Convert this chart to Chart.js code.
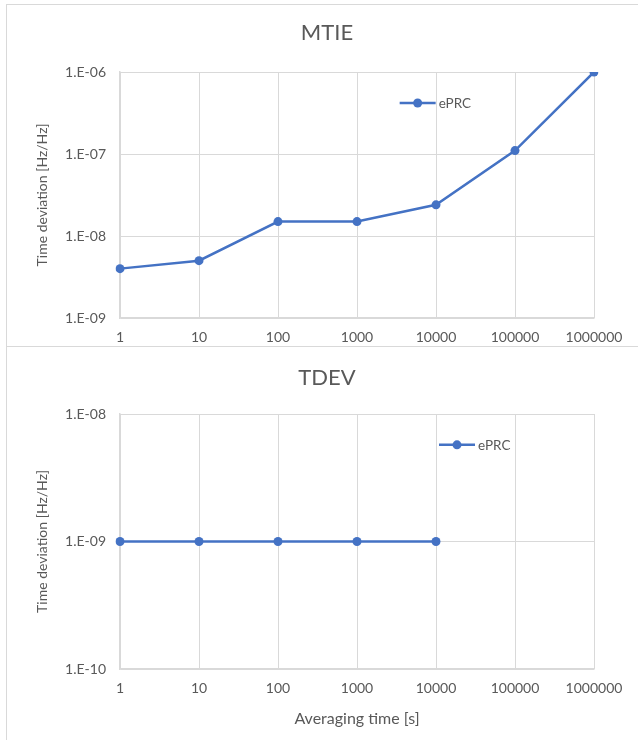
<!DOCTYPE html>
<html>
<head>
<meta charset="utf-8">
<script src="https://cdn.jsdelivr.net/npm/chart.js@4.4.1/dist/chart.umd.min.js"></script>
<style>
  html, body { margin: 0; padding: 0; background: #fff; overflow: hidden; width: 638px; height: 740px; }
  .box { position: absolute; left: 6px; width: 640px; border: 1px solid #d9d9d9; box-sizing: border-box; background: #fff; }
  #box-mtie { top: 4px; height: 343px; }
  #box-tdev { top: 346px; height: 400px; }
  .box canvas { position: absolute; left: 0; top: 0; }
</style>
</head>
<body>
<div class="box" id="box-mtie"><canvas id="chart-mtie"></canvas></div>
<div class="box" id="box-tdev"><canvas id="chart-tdev"></canvas></div>
<script>
const X_LABELS = ['1', '10', '100', '1000', '10000', '100000', '1000000'];
const MTIE_EPRC = [4e-9, 5e-9, 1.5e-8, 1.5e-8, 2.4e-8, 1.1e-7, 1e-6];
const TDEV_EPRC = [1e-9, 1e-9, 1e-9, 1e-9, 1e-9];
const MTIE_Y_TICKS = [1e-9, 1e-8, 1e-7, 1e-6];
const TDEV_Y_TICKS = [1e-10, 1e-9, 1e-8];
const SERIES_NAME = 'ePRC';

const BLUE = '#4472C4', GRID = '#d9d9d9', TEXT = '#595959';
const FONT = "Lato, 'Open Sans', sans-serif";
Chart.defaults.font.family = FONT;
Chart.defaults.color = TEXT;

const sciLabel = v => {
  const e = Math.round(Math.log10(v));
  return '1.E' + (e < 0 ? '-' : '+') + String(Math.abs(e)).padStart(2, '0');
};

// legend drawn inside the plot area, like the Excel original
const insideLegend = {
  id: 'insideLegend',
  afterDraw(chart, args, opts) {
    const { ctx, chartArea: a } = chart;
    const x = a.left + (a.right - a.left) * opts.fx;
    const y = a.top + (a.bottom - a.top) * opts.fy;
    ctx.save();
    ctx.strokeStyle = BLUE; ctx.lineWidth = 2.5;
    ctx.beginPath(); ctx.moveTo(x, y); ctx.lineTo(x + 36, y); ctx.stroke();
    ctx.fillStyle = BLUE;
    ctx.beginPath(); ctx.arc(x + 18, y, 4.5, 0, Math.PI * 2); ctx.fill();
    ctx.fillStyle = TEXT; ctx.font = '13.5px ' + FONT;
    ctx.textBaseline = 'middle'; ctx.textAlign = 'left';
    ctx.fillText(opts.text, x + 39, y + 1);
    ctx.restore();
  }
};

function makeChart(id, opts) {
  const canvas = document.getElementById(id);
  canvas.width = 640; canvas.height = opts.height;
  canvas.style.width = '640px'; canvas.style.height = opts.height + 'px';
  return new Chart(canvas, {
    type: 'line',
    data: {
      labels: X_LABELS,
      datasets: [{
        label: SERIES_NAME, data: opts.data,
        borderColor: BLUE, backgroundColor: BLUE, borderWidth: 2.5,
        pointRadius: 4.5, pointHoverRadius: 4.5, pointBackgroundColor: BLUE, pointBorderWidth: 0,
        tension: 0, fill: false
      }]
    },
    options: {
      responsive: false, animation: false, devicePixelRatio: 1,
      layout: { padding: 0 },
      plugins: {
        legend: { display: false },
        tooltip: { enabled: false },
        title: {
          display: true, text: opts.title, color: TEXT,
          font: { size: 22, weight: 'normal', family: FONT },
          padding: { top: opts.titleTop, bottom: 67 - opts.titleTop - 26.4 }
        },
        insideLegend: { fx: opts.legendX, fy: opts.legendY, text: SERIES_NAME }
      },
      scales: {
        x: {
          type: 'category', offset: false,
          grid: { color: GRID, lineWidth: 1, drawTicks: false },
          border: { color: GRID, width: 1.5 },
          ticks: { padding: 11, font: { size: 14 }, color: TEXT, maxRotation: 0, autoSkip: false },
          title: opts.xTitle ? { display: true, text: opts.xTitle, color: TEXT, font: { size: 16 }, padding: { top: 4, bottom: 19 } } : { display: false },
          afterFit: s => { s.height = opts.height - opts.plotBottom; s.paddingRight = 53; }
        },
        y: {
          type: 'logarithmic', min: opts.yTicks[0], max: opts.yTicks[opts.yTicks.length - 1],
          grid: { color: GRID, lineWidth: 1, drawTicks: false },
          border: { color: GRID, width: 1.5 },
          ticks: { padding: 14, font: { size: 14 }, color: TEXT, callback: v => sciLabel(v) },
          afterBuildTicks: s => { s.ticks = opts.yTicks.map(v => ({ value: v })); },
          title: { display: true, text: 'Time deviation [Hz/Hz]', color: TEXT, font: { size: 14 }, padding: { top: 27, bottom: 4 } },
          afterFit: s => { s.width = 113; }
        }
      }
    },
    plugins: [insideLegend]
  });
}

makeChart('chart-mtie', {
  title: 'MTIE', data: MTIE_EPRC, yTicks: MTIE_Y_TICKS,
  height: 343, plotBottom: 313, titleTop: 15,
  legendX: 0.59, legendY: 0.126
});

makeChart('chart-tdev', {
  title: 'TDEV', data: TDEV_EPRC, yTicks: TDEV_Y_TICKS,
  height: 400, plotBottom: 322, titleTop: 18, xTitle: 'Averaging time [s]',
  legendX: 0.673, legendY: 0.121
});
</script>
</body>
</html>
